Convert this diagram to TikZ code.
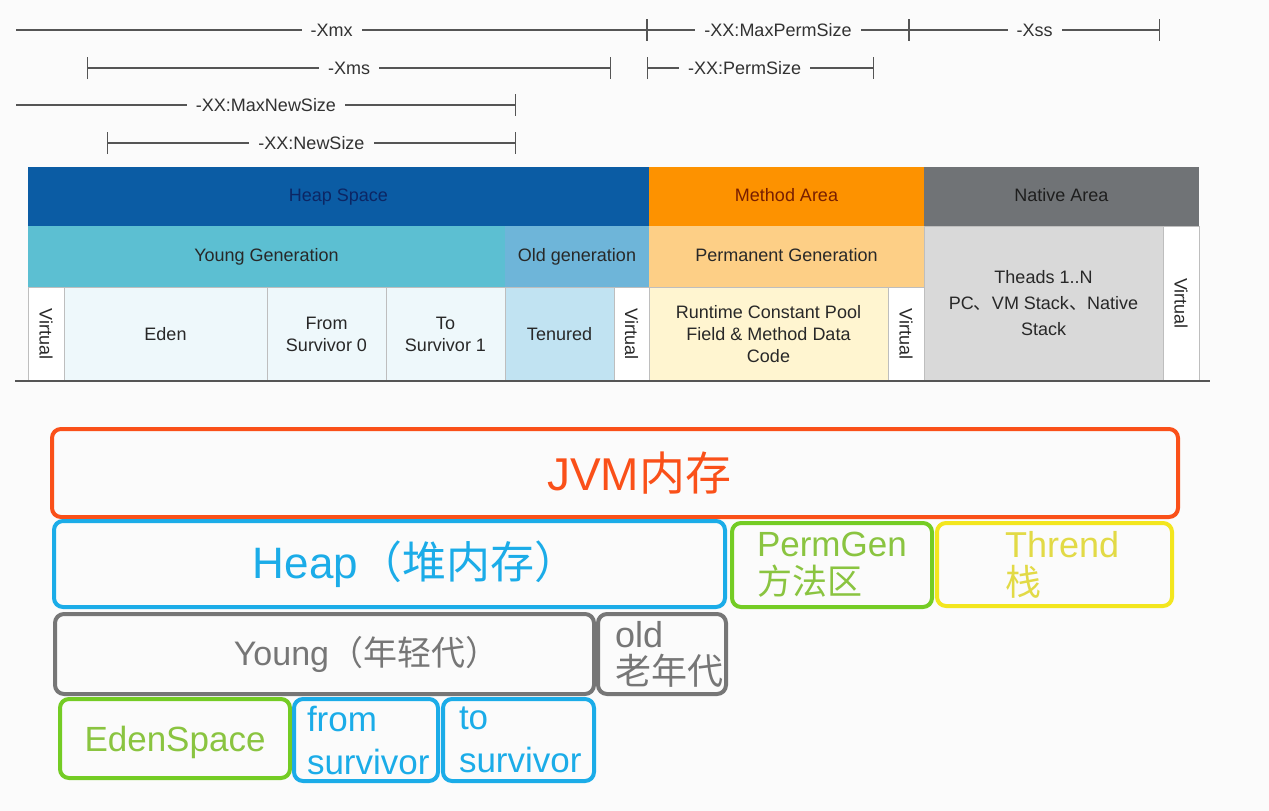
\documentclass[tikz,border=0pt]{standalone}
\usepackage{fontspec}
\usepackage{graphicx}
\usepackage{xcolor}
\setmainfont{Liberation Sans}
\newfontfamily\cjk{Noto Sans CJK SC}
\usepackage{tikz}
\usetikzlibrary{arrows.meta}
\hfuzz=300pt
\definecolor{pagebg}{RGB}{251,251,251}
\definecolor{dimgray}{RGB}{85,85,85}
\definecolor{dimtext}{RGB}{50,50,50}
\definecolor{heapblue}{RGB}{11,92,164}
\definecolor{heaptext}{RGB}{12,38,100}
\definecolor{methodorange}{RGB}{253,146,0}
\definecolor{methodtext}{RGB}{120,30,0}
\definecolor{nativegray}{RGB}{112,115,118}
\definecolor{nativetext}{RGB}{30,30,30}
\definecolor{youngcyan}{RGB}{92,191,210}
\definecolor{oldblue}{RGB}{110,181,217}
\definecolor{permorange}{RGB}{253,207,134}
\definecolor{threadgray}{RGB}{217,217,217}
\definecolor{edenfill}{RGB}{238,248,251}
\definecolor{tenuredfill}{RGB}{193,227,242}
\definecolor{runtimefill}{RGB}{255,245,208}
\definecolor{cellrule}{RGB}{190,190,190}
\definecolor{celltext}{RGB}{40,40,40}
\definecolor{jvmred}{RGB}{250,80,25}
\definecolor{heapsky}{RGB}{27,172,232}
\definecolor{permgreen}{RGB}{116,204,36}
\definecolor{permgreentext}{RGB}{138,196,64}
\definecolor{threadyellow}{RGB}{243,230,30}
\definecolor{threadyellowtext}{RGB}{226,218,70}
\definecolor{younggray}{RGB}{118,118,118}
\tikzset{
  dimline/.style={draw=dimgray, line width=1.1pt, {Bar[width=22pt]}-{Bar[width=22pt]}},
  dimopen/.style={draw=dimgray, line width=1.1pt, -{Bar[width=22pt]}},
  dimlabel/.style={fill=pagebg, text=dimtext, inner xsep=9pt, inner ysep=1pt,
                   font=\fontsize{18}{20}\selectfont},
  cell/.style={anchor=north west, inner sep=0pt, outer sep=0pt, align=center,
               text=celltext, font=\fontsize{18}{22}\selectfont},
  headcell/.style={cell, text height=13pt, text depth=4pt},
  subcell/.style={cell, draw=cellrule, line width=0.8pt},
  memblock/.style={anchor=north west, rounded corners=9pt, line width=4pt,
                   inner sep=0pt, outer sep=0pt, align=center},
  padblock/.style={memblock, align=left},
}

\begin{document}
\begin{tikzpicture}[x=1pt, y=-1pt]

  % --- Page ---
  \useasboundingbox (0,0) rectangle (1269,811);
  \fill[pagebg] (0,0) rectangle (1269,811);

  % --- JVM options ---
  \coordinate (xmxL) at (16,30);   \coordinate (xmxR) at (647,30);
  \coordinate (mpsR) at (909,30);  \coordinate (xssR) at (1160,30);
  \coordinate (xmsL) at (87,68);   \coordinate (xmsR) at (611,68);
  \coordinate (psL)  at (647,68);  \coordinate (psR)  at (874,68);
  \coordinate (mnsL) at (16,105);  \coordinate (mnsR) at (516,105);
  \coordinate (nsL)  at (107,143); \coordinate (nsR)  at (516,143);

  \draw[dimopen] (xmxL) -- node[dimlabel] (xmx) {-Xmx} (xmxR);
  \draw[dimline] (xmxR) -- node[dimlabel] (maxperm) {-XX:MaxPermSize} (mpsR);
  \draw[dimline] (mpsR) -- node[dimlabel] (xss) {-Xss} (xssR);
  \draw[dimline] (xmsL) -- node[dimlabel] (xms) {-Xms} (xmsR);
  \draw[dimline] (psL)  -- node[dimlabel, pos=0.43] (permsize) {-XX:PermSize} (psR);
  \draw[dimopen] (mnsL) -- node[dimlabel] (maxnew) {-XX:MaxNewSize} (mnsR);
  \draw[dimline] (nsL)  -- node[dimlabel] (newsize) {-XX:NewSize} (nsR);

  % --- Memory table, top row ---
  \node[headcell, fill=heapblue, text=heaptext, minimum width=621pt, minimum height=59pt]
        (heap) at (28,167) {Heap Space};
  \node[headcell, fill=methodorange, text=methodtext, minimum width=275pt, minimum height=59pt]
        (method) at (649,167) {Method Area};
  \node[headcell, fill=nativegray, text=nativetext, minimum width=275pt, minimum height=59pt]
        (native) at (924,167) {Native Area};

  % --- Memory table, second row ---
  \node[headcell, fill=youngcyan, minimum width=477pt, minimum height=61pt]
        (younggen) at (28,226) {Young Generation};
  \node[headcell, fill=oldblue, minimum width=144pt, minimum height=61pt]
        (oldgen) at (505,226) {Old generation};
  \node[headcell, fill=permorange, minimum width=275pt, minimum height=61pt]
        (permgen) at (649,226) {Permanent Generation};
  \node[subcell, fill=threadgray, minimum width=239pt, minimum height=155pt, font=\fontsize{18}{26}\selectfont]
        (threads) at (924,226) {Theads 1..N\\PC{\cjk 、}VM Stack{\cjk 、}Native\\Stack};
  \node[subcell, fill=white, minimum width=36pt, minimum height=155pt]
        (virtnative) at (1163,226) {\rotatebox{-90}{Virtual}};

  % --- Memory table, third row ---
  \node[subcell, fill=white, minimum width=36pt, minimum height=94pt]
        (virtyoung) at (28,287) {\rotatebox{-90}{Virtual}};
  \node[subcell, fill=edenfill, minimum width=203pt, minimum height=94pt]
        (eden) at (64,287) {Eden};
  \node[subcell, fill=edenfill, minimum width=119pt, minimum height=94pt]
        (surv0) at (267,287) {From\\Survivor 0};
  \node[subcell, fill=edenfill, minimum width=119pt, minimum height=94pt]
        (surv1) at (386,287) {To\\Survivor 1};
  \node[subcell, fill=tenuredfill, minimum width=109pt, minimum height=94pt]
        (tenured) at (505,287) {Tenured};
  \node[subcell, fill=white, minimum width=35pt, minimum height=94pt]
        (virtold) at (614,287) {\rotatebox{-90}{Virtual}};
  \node[subcell, fill=runtimefill, minimum width=239pt, minimum height=94pt]
        (runtime) at (649,287) {Runtime Constant Pool\\Field \& Method Data\\Code};
  \node[subcell, fill=white, minimum width=36pt, minimum height=94pt]
        (virtperm) at (888,287) {\rotatebox{-90}{Virtual}};

  \coordinate (ruleL) at (15,381); \coordinate (ruleR) at (1210,381);
  \draw[dimgray, line width=1.5pt] (ruleL) -- (ruleR);

  % --- Simplified view ---
  \node[memblock, draw=jvmred, text=jvmred, minimum width=1126pt, minimum height=88pt,
        font=\fontsize{46}{50}\selectfont]
        (jvm) at (52,429) {\hspace*{48pt}JVM{\cjk 内存}};
  \node[memblock, draw=heapsky, text=heapsky, minimum width=671pt, minimum height=86pt,
        font=\fontsize{44}{48}\selectfont]
        (heapbox) at (54,521) {\hspace*{52pt}Heap{\cjk （堆内存）}};
  \node[padblock, draw=permgreen, text=permgreentext, minimum height=84pt,
        inner xsep=25pt, text width=150pt, font=\fontsize{35}{38}\selectfont]
        (permbox) at (732,523) {PermGen\\{\cjk 方法区}};
  \node[padblock, draw=threadyellow, text=threadyellowtext, minimum height=83pt,
        inner xsep=68pt, text width=99pt, font=\fontsize{36}{38}\selectfont]
        (threadbox) at (937,523) {Thrend\\{\cjk 栈}};
  \node[memblock, draw=younggray, text=younggray, minimum width=539pt, minimum height=80pt,
        font=\fontsize{34}{38}\selectfont]
        (youngbox) at (55,614) {\hspace*{84pt}Young{\cjk （年轻代）}};
  \node[padblock, draw=younggray, text=younggray, minimum height=80pt,
        inner xsep=17pt, text width=94pt, font=\fontsize{36}{37}\selectfont]
        (oldbox) at (598,614) {old\\{\cjk 老年代}};
  \node[memblock, draw=permgreen, text=permgreentext, minimum width=230pt, minimum height=79pt,
        text height=26pt, text depth=0pt, font=\fontsize{35}{38}\selectfont]
        (edenbox) at (60,699) {EdenSpace};
  \node[padblock, draw=heapsky, text=heapsky, minimum height=82pt,
        inner xsep=13pt, text width=118pt, font=\fontsize{35}{43}\selectfont]
        (frombox) at (294,699) {from\\survivor};
  \node[padblock, draw=heapsky, text=heapsky, minimum height=82pt,
        inner xsep=16pt, text width=119pt, font=\fontsize{35}{43}\selectfont]
        (tobox) at (443,699) {to\\survivor};

\end{tikzpicture}
\end{document}
